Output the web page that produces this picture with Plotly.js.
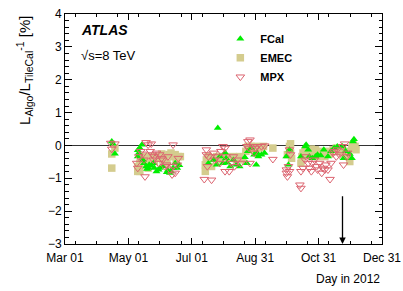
<!DOCTYPE html>
<html>
<head>
<meta charset="utf-8">
<script src="https://cdn.plot.ly/plotly-3.0.1.min.js"></script>
<style>html,body{margin:0;padding:0;background:#fff}#chart{width:403px;height:291px}</style>
</head>
<body>
<div id="chart"></div>
<script>
// ---- data (day, L_Algo/L_TileCal - 1 in %) ----
const fcalDate = ['2012-04-15','2012-04-16','2012-04-18',
 '2012-05-10','2012-05-10','2012-05-11','2012-05-12','2012-05-14','2012-05-15','2012-05-16','2012-05-18','2012-05-19','2012-05-20','2012-05-21','2012-05-23','2012-05-25','2012-05-26','2012-05-28','2012-05-30','2012-05-31','2012-06-03','2012-06-07','2012-06-08','2012-06-10','2012-06-11','2012-06-13','2012-06-15','2012-06-17','2012-06-19',
 '2012-07-17','2012-07-22','2012-07-25','2012-07-26','2012-07-28','2012-07-31','2012-08-02','2012-08-03','2012-08-04','2012-08-07','2012-08-10','2012-08-13','2012-08-16','2012-08-21','2012-08-23','2012-08-24','2012-08-27','2012-08-30','2012-09-01','2012-09-02','2012-09-03','2012-09-06','2012-09-09',
 '2012-09-30','2012-10-02','2012-10-03','2012-10-14','2012-10-18','2012-10-19','2012-10-21','2012-10-22','2012-10-25','2012-10-28','2012-10-30','2012-11-02','2012-11-05','2012-11-09','2012-11-12','2012-11-15','2012-11-18','2012-11-23','2012-11-24','2012-11-26','2012-11-30','2012-12-02','2012-12-03','2012-12-04'];
const fcalVal = [0.12,0.05,-0.25,
 -0.15,-0.34,-0.23,-0.08,0.02,-0.44,-0.54,-0.64,-0.72,-0.68,-0.59,-0.62,-0.54,-0.69,-0.79,-0.74,-0.69,-0.64,-0.82,-0.76,-0.84,-0.79,-0.69,-0.54,-0.69,-0.60,
 -0.54,-0.44,-0.59,0.53,-0.34,-0.54,-0.22,-0.39,-0.53,-0.64,-0.44,-0.59,-0.64,-0.36,-0.54,-0.18,-0.08,-0.28,-0.59,-0.23,-0.34,-0.28,-0.23,
 -0.34,-0.59,-0.13,-0.34,-0.03,0.02,-0.13,-0.34,-0.39,-0.34,-0.28,-0.31,-0.13,-0.34,-0.18,-0.08,-0.03,-0.03,-0.39,-0.18,-0.26,-0.39,0.12,0.19];

const emecDate = ['2012-04-15','2012-04-15','2012-04-18',
 '2012-05-10','2012-05-10','2012-05-12','2012-05-12','2012-05-13','2012-05-15','2012-05-18','2012-05-20','2012-05-22','2012-05-24','2012-05-26','2012-05-28','2012-05-30','2012-06-02','2012-06-03','2012-06-05','2012-06-07','2012-06-09','2012-06-11','2012-06-13','2012-06-15','2012-06-16','2012-06-18','2012-06-20',
 '2012-07-14','2012-07-14','2012-07-15','2012-07-17','2012-07-20','2012-07-22','2012-07-25','2012-07-28','2012-07-29','2012-07-31','2012-08-03','2012-08-06','2012-08-10','2012-08-13','2012-08-16','2012-08-19','2012-08-22','2012-08-24','2012-08-27','2012-08-29','2012-09-01','2012-09-05','2012-09-08','2012-09-17',
 '2012-10-01','2012-10-03','2012-10-04','2012-10-04','2012-10-05','2012-10-14','2012-10-15','2012-10-16','2012-10-18','2012-10-19','2012-10-21','2012-10-24','2012-10-25','2012-10-28','2012-10-30','2012-11-01','2012-11-02','2012-11-06','2012-11-09','2012-11-11','2012-11-14','2012-11-17','2012-11-20','2012-11-23','2012-11-26','2012-11-29','2012-11-30','2012-12-02','2012-12-03','2012-12-05','2012-12-06'];
const emecVal = [-0.26,-0.69,-0.08,
 -0.79,-0.64,-0.54,-0.79,-0.34,-0.44,-0.34,-0.69,-0.44,-0.34,-0.49,-0.39,-0.34,-0.26,-0.44,-0.34,-0.54,-0.28,-0.23,-0.34,-0.28,-0.42,-0.34,-0.34,
 -0.79,-0.59,-0.44,-0.34,-0.64,-0.39,-0.34,-0.39,-0.44,-0.34,-0.34,-0.39,-0.34,-0.42,-0.34,-0.44,-0.18,-0.03,-0.03,-0.13,-0.03,-0.08,-0.03,-0.08,
 -0.28,-0.03,0.05,-0.23,-0.39,-0.54,-0.34,-0.23,-0.18,-0.13,-0.28,-0.11,-0.23,-0.13,-0.34,-0.18,-0.26,-0.34,-0.18,-0.26,-0.13,-0.08,-0.18,-0.23,-0.18,-0.34,-0.49,-0.08,0.02,-0.03,-0.13];

const mpxDate = ['2012-04-14','2012-04-15','2012-04-18',
 '2012-05-09','2012-05-10','2012-05-11','2012-05-13','2012-05-15','2012-05-16','2012-05-17','2012-05-18','2012-05-20','2012-05-22','2012-05-23','2012-05-24','2012-05-25','2012-05-26','2012-05-28','2012-05-30','2012-05-31','2012-06-02','2012-06-03','2012-06-05','2012-06-07','2012-06-08','2012-06-10','2012-06-12','2012-06-13','2012-06-13','2012-06-15','2012-06-17','2012-06-18',
 '2012-07-13','2012-07-15','2012-07-15','2012-07-16','2012-07-17','2012-07-20','2012-07-22','2012-07-23','2012-07-25','2012-07-28','2012-07-29','2012-07-31','2012-08-02','2012-08-02','2012-08-03','2012-08-06','2012-08-08','2012-08-10','2012-08-11','2012-08-14','2012-08-17','2012-08-23','2012-08-24','2012-08-25','2012-08-26','2012-08-26','2012-08-29','2012-08-30','2012-08-31','2012-09-02','2012-09-06','2012-09-09','2012-09-17',
 '2012-09-30','2012-09-30','2012-10-01','2012-10-02','2012-10-03','2012-10-03','2012-10-04','2012-10-13','2012-10-14','2012-10-14','2012-10-16','2012-10-18','2012-10-19','2012-10-21','2012-10-22','2012-10-24','2012-10-25','2012-10-27','2012-10-29','2012-10-30','2012-11-01','2012-11-03','2012-11-04','2012-11-06','2012-11-07','2012-11-09','2012-11-11','2012-11-12','2012-11-14','2012-11-15','2012-11-17','2012-11-18','2012-11-20','2012-11-23','2012-11-24','2012-11-25','2012-11-27','2012-11-28'];
const mpxVal = [0.07,-0.11,0.05,
 -0.54,-0.69,-0.34,-0.18,-0.26,-0.44,-0.95,0.09,0.02,-0.18,0.05,-0.28,-0.44,-0.34,-0.23,-0.54,-0.28,-0.39,-0.44,-0.64,-0.59,-0.34,-0.74,-0.89,0.02,-0.64,-0.84,-0.59,-0.39,
 -1.03,-0.13,-0.28,-0.64,-0.34,-1.05,-0.23,-0.44,-0.34,-0.54,-0.18,-0.03,-0.79,-0.08,-0.34,-0.79,-0.54,-0.34,-0.64,-0.44,-0.54,-0.03,0.12,-0.08,0.17,-0.54,-0.03,-0.23,-0.08,-0.03,-0.03,-0.01,-0.42,
 -0.74,-0.84,-0.95,-0.64,-0.13,-0.79,-0.28,-1.20,-1.30,-0.79,-0.69,-0.44,-0.34,-0.54,-0.69,-0.79,-0.54,-0.44,-0.64,-0.74,-0.54,-0.84,-0.69,-0.74,-0.59,-0.74,-1.03,-0.54,-0.23,-0.18,-0.34,-0.13,-0.28,-0.03,-0.59,0.05,-0.34,-0.23];

const seriesNames = ['FCal','EMEC','MPX'];
const xTickStart = '2012-03-01';
const xRange = ['2012-03-01','2012-12-31'];
const yRange = [-3, 4];
const arrowDate = '2012-11-23';
const arrowFrom = -1.5;

const FONT = 'Liberation Sans, Arial, Helvetica, sans-serif';
const DAY = 86400000;

const traces = [
  {name: seriesNames[1], x: emecDate, y: emecVal, type: 'scatter', mode: 'markers', legendrank: 2,
   marker: {symbol: 'square', size: 7.5, color: '#d4cc8e'}},
  {name: seriesNames[0], x: fcalDate, y: fcalVal, type: 'scatter', mode: 'markers', legendrank: 1,
   marker: {symbol: 'triangle-up', size: 7, color: '#00ee00'}},
  {name: seriesNames[2], x: mpxDate, y: mpxVal, type: 'scatter', mode: 'markers', legendrank: 3,
   marker: {symbol: 'triangle-down-open', size: 7.5, color: '#dc6470', line: {width: 1}}}
];

const layout = {
  width: 403, height: 291,
  margin: {l: 65, r: 21, t: 14, b: 47},
  paper_bgcolor: '#fff', plot_bgcolor: '#fff',
  font: {family: FONT, size: 12, color: '#000'},
  showlegend: true,
  legend: {x: 0.49, y: 0.955, xanchor: 'left', yanchor: 'top', bgcolor: 'rgba(0,0,0,0)',
           font: {family: FONT, size: 11, color: '#000', weight: 'bold'}, itemwidth: 30, tracegroupgap: 0},
  xaxis: {type: 'date', range: xRange, tick0: xTickStart, dtick: 61 * DAY, tickformat: '%b %d',
          showgrid: false, zeroline: false, showline: true, linecolor: '#000', linewidth: 1, mirror: 'allticks',
          ticks: 'inside', ticklen: 6, tickcolor: '#000', tickfont: {size: 12, family: FONT}, ticklabelstandoff: 3,
          minor: {dtick: 61 * DAY / 3, ticks: 'inside', ticklen: 3, tickcolor: '#000', showgrid: false},
          fixedrange: true},
  yaxis: {range: yRange, dtick: 1, tick0: 0, showgrid: false,
          zeroline: true, zerolinecolor: '#333', zerolinewidth: 1.6,
          showline: true, linecolor: '#000', linewidth: 1, mirror: 'allticks',
          ticks: 'inside', ticklen: 7, tickcolor: '#000', tickfont: {size: 12, family: FONT},
          minor: {dtick: 0.2, ticks: 'inside', ticklen: 3.5, tickcolor: '#000', showgrid: false},
          fixedrange: true},
  annotations: [
    {text: 'L<sub>Algo</sub>/L<sub>TileCal</sub><sup>-1</sup> [%]', textangle: -90,
     xref: 'paper', yref: 'paper', x: -0.128, y: 1.0, xanchor: 'center', yanchor: 'top',
     showarrow: false, font: {size: 15, family: FONT}},
    {text: 'Day in 2012', xref: 'paper', yref: 'paper', x: 1.0, y: -0.115, xanchor: 'right', yanchor: 'top',
     showarrow: false, font: {size: 12, family: FONT}},
    {text: '<b><i>ATLAS</i></b>', xref: 'paper', yref: 'paper', x: 0.045, y: 0.93, xanchor: 'left', yanchor: 'middle',
     showarrow: false, font: {size: 14, family: FONT}},
    {text: '√s=8 TeV', xref: 'paper', yref: 'paper', x: 0.045, y: 0.82, xanchor: 'left', yanchor: 'middle',
     showarrow: false, font: {size: 13, family: FONT}},
    {text: '', x: arrowDate, y: yRange[0], ax: arrowDate, ay: arrowFrom, axref: 'x', ayref: 'y', xref: 'x', yref: 'y',
     showarrow: true, arrowhead: 2, arrowsize: 1, arrowwidth: 1.3, arrowcolor: '#000', standoff: 0}
  ]
};

Plotly.newPlot('chart', traces, layout, {staticPlot: true, displayModeBar: false});
</script>
</body>
</html>
